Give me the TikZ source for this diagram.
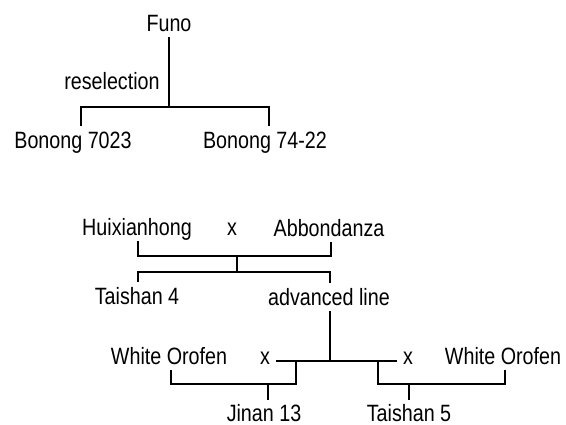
\documentclass[tikz,border=0pt]{standalone}
\usepackage{fontspec}
\setmainfont[FakeStretch=0.835]{Liberation Sans}
\usepackage{tikz}
\usetikzlibrary{positioning}
\tikzstyle{cultivar} = [inner xsep=1pt, inner ysep=2.5pt, text height=8.4pt, text depth=0pt, font=\fontsize{11.8pt}{14pt}\selectfont]
\tikzstyle{offspring} = [cultivar, inner ysep=0.3pt]
\tikzstyle{crossmark} = [cultivar, inner xsep=3pt]
\tikzstyle{pedigree} = [line width=1.2pt]

\begin{document}
\begin{tikzpicture}[x=0.5pt,y=-0.5pt]
	\useasboundingbox (0,0) rectangle (566,424);
	\node[cultivar](funo) at (169,23.5){Funo};
	\node[cultivar](bonA) at (73,140){Bonong 7023};
	\node[cultivar](bonB) at (265,140){Bonong 74-22};
	\coordinate (fork) at (169,107);
	\coordinate (stemmid) at (169,81.5);
	\node[cultivar, left=3.5pt of stemmid](resel){reselection};
	\draw[pedigree] (funo.south) -- (fork);
	\draw[pedigree] ([xshift=4pt]bonA.north) |- (fork) -| ([xshift=2pt]bonB.north);

	\node[cultivar](huix) at (137,227){Huixianhong};
	\node[crossmark](xA) at (232,227){x};
	\node[cultivar](abbo) at (329,228){Abbondanza};
	\node[cultivar](ts4) at (137,296){Taishan 4};
	\node[cultivar](adv) at (329,297){advanced line};
	\coordinate (crossA) at (237,256);
	\coordinate (splitA) at (237,272);
	\draw[pedigree] ([xshift=0.5pt]huix.south) |- (crossA) -| ([xshift=1pt]abbo.south);
	\draw[pedigree] (crossA) -- (splitA);
	\draw[pedigree] ([xshift=0.5pt]ts4.north) |- (splitA) -| ([xshift=0.5pt]adv.north);

	\node[cultivar](woA) at (169,356){White Orofen};
	\node[crossmark](xB) at (265,356){x};
	\node[crossmark](xC) at (408,356){x};
	\node[cultivar](woB) at (503,356){White Orofen};
	\node[offspring](jinan) at (264,413){Jinan 13};
	\node[offspring](ts5) at (409,413){Taishan 5};
	\coordinate (splitB) at (330,361);
	\coordinate (crossB) at (296,384);
	\coordinate (crossC) at (378,384);
	\coordinate (seedB) at (268,384);
	\coordinate (seedC) at (409,384);
	\draw[pedigree] ([xshift=0.5pt]adv.south) -- (splitB);
	\draw[pedigree] (xB.east |- splitB) -- (xC.west |- splitB);
	\draw[pedigree] ([xshift=1pt]woA.south) |- (crossB) -- (crossB |- splitB);
	\draw[pedigree] (crossC |- splitB) -- (crossC) -| ([xshift=1pt]woB.south);
	\draw[pedigree] (seedB) -- ([yshift=2pt]jinan.north -| seedB);
	\draw[pedigree] (seedC) -- ([yshift=2pt]ts5.north -| seedC);
\end{tikzpicture}
\end{document}
